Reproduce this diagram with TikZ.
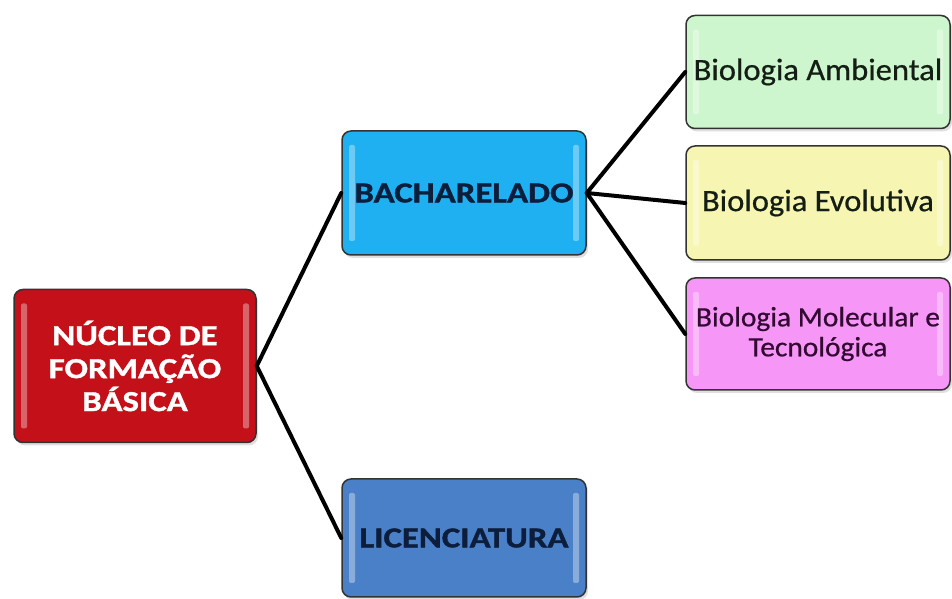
\documentclass[tikz,border=0pt]{standalone}
\usepackage{fontspec}
\setmainfont{Carlito}
\newfontfamily\widebold[FakeStretch=1.2,FakeBold=1.2]{Carlito Bold}
\newfontfamily\widereg[FakeStretch=1.05,FakeBold=0.6]{Carlito}
\usetikzlibrary{shadows}
\definecolor{redbox}{RGB}{196,16,24}
\definecolor{bachbox}{RGB}{30,176,240}
\definecolor{licbox}{RGB}{74,128,200}
\definecolor{greenbox}{RGB}{206,246,206}
\definecolor{yellowbox}{RGB}{246,246,178}
\definecolor{pinkbox}{RGB}{246,150,246}
\definecolor{navytext}{RGB}{12,30,60}
\definecolor{darktext}{RGB}{20,30,20}
\definecolor{purpletext}{RGB}{50,10,50}
\tikzset{
  x=1pt,y=1pt,
  glossbox/.style={draw=black!80, line width=1.5pt, rounded corners=9pt, align=center,
    inner sep=0pt, drop shadow={opacity=0.25, shadow xshift=2pt, shadow yshift=-3pt},
    path picture={
      \fill[white,opacity=0.35,rounded corners=2pt]
        ([xshift=7pt,yshift=-14pt]path picture bounding box.north west) rectangle
        ([xshift=13pt,yshift=14pt]path picture bounding box.south west);
      \fill[white,opacity=0.35,rounded corners=2pt]
        ([xshift=-7pt,yshift=-14pt]path picture bounding box.north east) rectangle
        ([xshift=-13pt,yshift=14pt]path picture bounding box.south east);
    }},
  link/.style={line width=4pt, black, line cap=round}
}
\begin{document}
\begin{tikzpicture}
\useasboundingbox[fill=white] (0,0) rectangle (952,599);
\node[glossbox, fill=redbox, text=white, minimum width=242, minimum height=153,
  font=\fontsize{29}{33}\widebold] (nucleo) at (135,233)
  {NÚCLEO DE\\FORMAÇÃO\\BÁSICA};
\node[glossbox, fill=bachbox, text=navytext, minimum width=244, minimum height=124,
  font=\fontsize{29}{33}\widebold] (bach) at (464,406) {BACHARELADO};
\node[glossbox, fill=licbox, text=navytext, minimum width=244, minimum height=118,
  font=\fontsize{29}{33}\widebold] (lic) at (464,61) {LICENCIATURA};
\node[glossbox, fill=greenbox, text=darktext, minimum width=264, minimum height=113,
  font=\fontsize{31}{34}\widereg] (amb) at (818,527) {Biologia Ambiental};
\node[glossbox, fill=yellowbox, text=darktext, minimum width=264, minimum height=114,
  font=\fontsize{31}{34}\widereg] (evo) at (818,396) {Biologia Evolutiva};
\node[glossbox, fill=pinkbox, text=purpletext, minimum width=264, minimum height=112,
  font=\fontsize{28}{30}\widereg] (mol) at (818,265) {Biologia Molecular e\\Tecnológica};
\draw[link] (nucleo.east) -- (bach.west);
\draw[link] (nucleo.east) -- (lic.west);
\draw[link] (bach.east) -- (amb.west);
\draw[link] (bach.east) -- (evo.west);
\draw[link] (bach.east) -- (mol.west);
\end{tikzpicture}
\end{document}
